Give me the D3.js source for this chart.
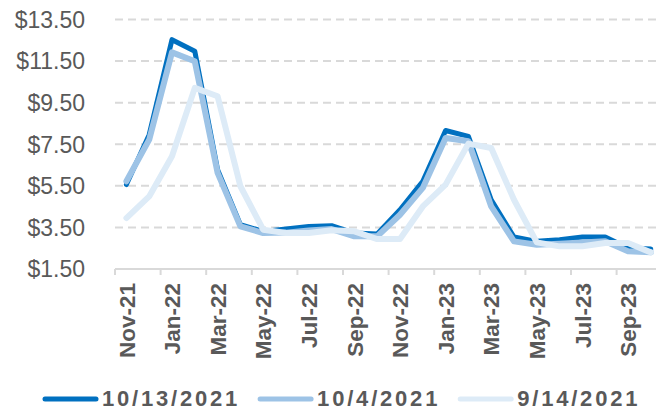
<!DOCTYPE html>
<html>
<head>
<meta charset="utf-8">
<script src="https://cdn.jsdelivr.net/npm/d3@7"></script>
<style>
  html, body { margin: 0; padding: 0; background: #fff; }
  svg { display: block; font-family: "Liberation Sans", Arial, sans-serif; }
</style>
</head>
<body>
<svg id="chart"></svg>
<script>
// datos
var months = ["Nov-21", "Dec-21", "Jan-22", "Feb-22", "Mar-22", "Apr-22", "May-22", "Jun-22",
  "Jul-22", "Aug-22", "Sep-22", "Oct-22", "Nov-22", "Dec-22", "Jan-23", "Feb-23",
  "Mar-23", "Apr-23", "May-23", "Jun-23", "Jul-23", "Aug-23", "Sep-23", "Oct-23"];

var seriesNames = ["10/13/2021", "10/4/2021", "9/14/2021"];

var oct13 = [5.56, 7.96, 12.53, 11.97, 6.28, 3.63, 3.31, 3.42, 3.55, 3.58, 3.23, 3.18,
  4.35, 5.72, 8.16, 7.88, 4.83, 3.04, 2.83, 2.91, 3.04, 3.04, 2.51, 2.46];
var oct4 = [5.72, 7.72, 11.92, 11.49, 6.12, 3.55, 3.23, 3.25, 3.35, 3.42, 3.07, 3.07,
  4.11, 5.40, 7.80, 7.64, 4.51, 2.83, 2.67, 2.72, 2.78, 2.83, 2.35, 2.30];
var sep14 = [3.95, 4.99, 6.92, 10.21, 9.81, 5.48, 3.39, 3.23, 3.23, 3.36, 3.31, 2.94,
  2.94, 4.51, 5.56, 7.53, 7.32, 4.83, 2.78, 2.59, 2.59, 2.75, 2.75, 2.30];

var yTicks = [1.5, 3.5, 5.5, 7.5, 9.5, 11.5, 13.5];

var colours = ["#0070C0", "#9DC3E6", "#DDEBF7"];
var widths = [5, 6, 6];

var width = 656, height = 411;
var plotLeft = 115, plotTop = 19.5, plotBottom = 269, band = 22.8;

var svg = d3.select("#chart").attr("width", width).attr("height", height);

var x = d3.scaleBand().domain(months).range([plotLeft, plotLeft + band * months.length]).padding(0);
var y = d3.scaleLinear().domain([1.5, 13.5]).range([plotBottom, plotTop]);

// grid lines
svg.append("g").selectAll("line")
  .data(yTicks.slice(1))
  .enter().append("line")
  .attr("x1", plotLeft).attr("x2", x.range()[1])
  .attr("y1", function (d) { return y(d); })
  .attr("y2", function (d) { return y(d); })
  .attr("stroke", "#D9D9D9")
  .attr("stroke-width", 2)
  .attr("stroke-dasharray", "8,5");

// y labels
svg.append("g").selectAll("text")
  .data(yTicks)
  .enter().append("text")
  .attr("x", 85)
  .attr("y", function (d) { return y(d); })
  .attr("dy", "0.36em")
  .attr("text-anchor", "end")
  .attr("fill", "#595959")
  .style("font-size", "23px")
  .text(function (d) { return "$" + d.toFixed(2); });

// x axis line + ticks every two months
svg.append("line")
  .attr("x1", plotLeft).attr("x2", x.range()[1])
  .attr("y1", plotBottom).attr("y2", plotBottom)
  .attr("stroke", "#D9D9D9").attr("stroke-width", 2);

var everyOther = months.filter(function (d, i) { return i % 2 === 0; });

svg.append("g").selectAll("line")
  .data(everyOther.concat(["end"]))
  .enter().append("line")
  .attr("x1", function (d) { return d === "end" ? x.range()[1] : x(d); })
  .attr("x2", function (d) { return d === "end" ? x.range()[1] : x(d); })
  .attr("y1", plotBottom).attr("y2", plotBottom + 6)
  .attr("stroke", "#D9D9D9").attr("stroke-width", 2);

svg.append("g").selectAll("text")
  .data(everyOther)
  .enter().append("text")
  .attr("transform", function (d) {
    return "translate(" + (x(d) + x.bandwidth() / 2) + "," + 283 + ") rotate(-90)";
  })
  .attr("dy", "0.36em")
  .attr("text-anchor", "end")
  .attr("fill", "#595959")
  .style("font-size", "22.5px")
  .style("font-weight", "bold")
  .text(function (d) { return d; });

// lines
var allSeries = [oct13, oct4, sep14];
var line = d3.line()
  .x(function (d, i) { return x(months[i]) + x.bandwidth() / 2; })
  .y(function (d) { return y(d); });

svg.append("g").selectAll("path")
  .data(allSeries)
  .enter().append("path")
  .attr("d", line)
  .attr("fill", "none")
  .attr("stroke", function (d, i) { return colours[i]; })
  .attr("stroke-width", function (d, i) { return widths[i]; })
  .attr("stroke-linejoin", "round")
  .attr("stroke-linecap", "round");

// legend
var lx = 43, ly = 398;
seriesNames.forEach(function (name, i) {
  svg.append("line")
    .attr("x1", lx + 2).attr("x2", lx + 53)
    .attr("y1", ly + 1).attr("y2", ly + 1)
    .attr("stroke", colours[i]).attr("stroke-width", 5)
    .attr("stroke-linecap", "round");
  var t = svg.append("text")
    .attr("x", lx + 59)
    .attr("y", ly)
    .attr("dy", "0.36em")
    .attr("fill", "#595959")
    .style("font-size", "22px")
    .style("font-weight", "bold")
    .style("letter-spacing", "2.8px")
    .text(name);
  lx = lx + 59 + t.node().getComputedTextLength() + 18;
});
</script>
</body>
</html>
